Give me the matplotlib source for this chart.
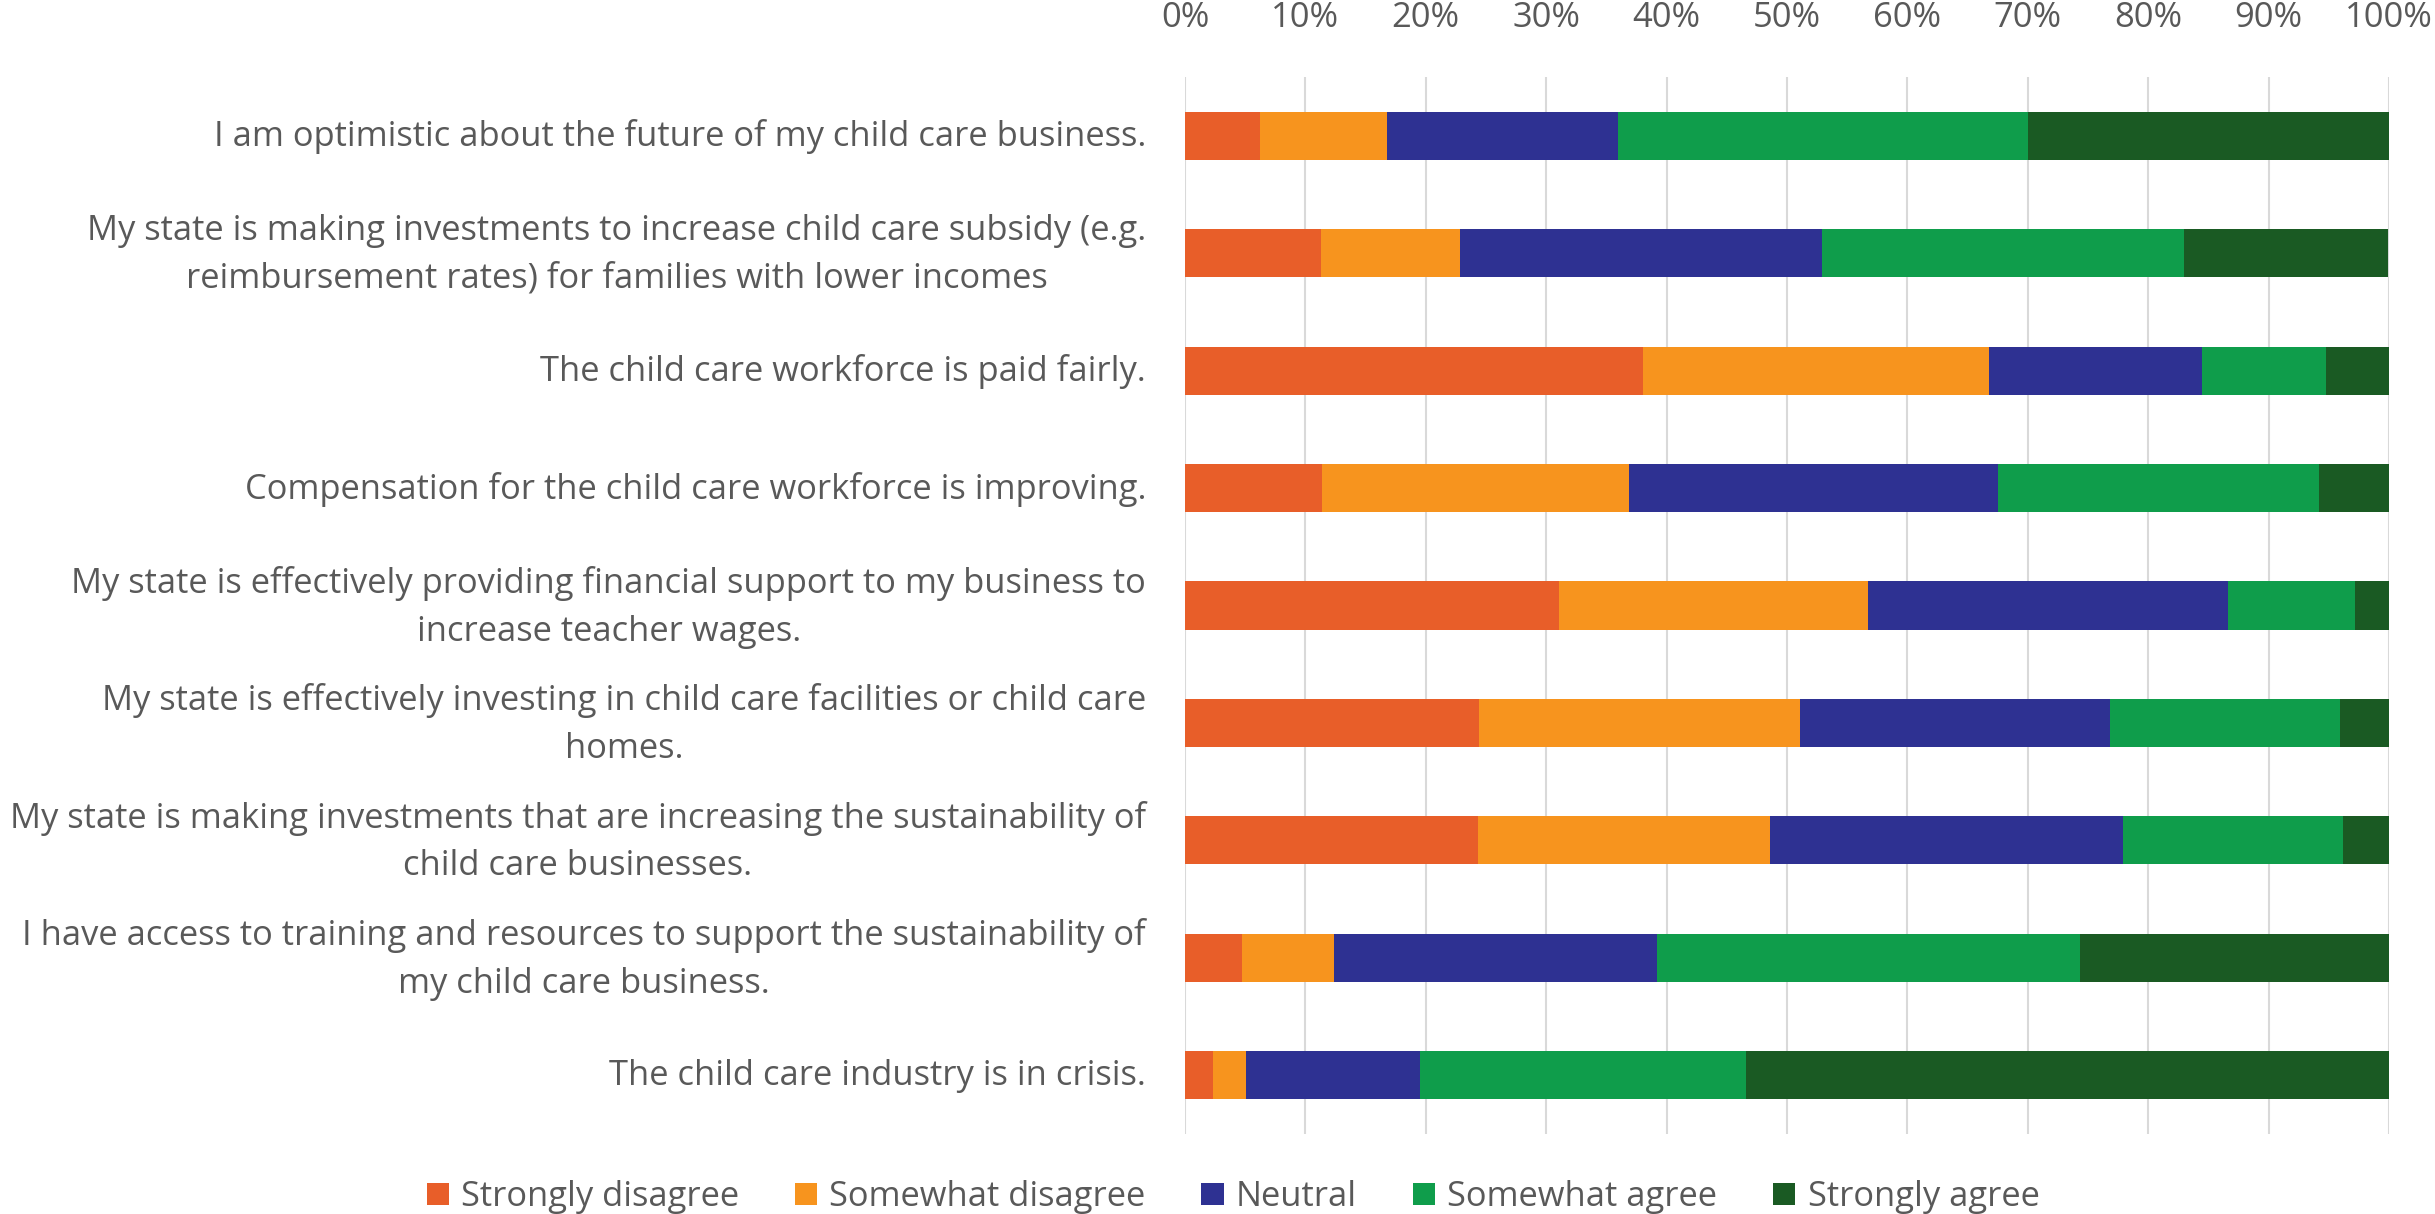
import matplotlib
matplotlib.use("Agg")
import matplotlib.pyplot as plt
import matplotlib.transforms as mtransforms
from matplotlib.patches import Patch
from matplotlib.ticker import FixedLocator
import numpy as np

categories = [
    "I am optimistic about the future of my child care business.",
    "My state is making investments to increase child care subsidy (e.g.\nreimbursement rates) for families with lower incomes",
    "The child care workforce is paid fairly.",
    "Compensation for the child care workforce is improving.",
    "My state is effectively providing financial support to my business to\nincrease teacher wages.",
    "My state is effectively investing in child care facilities or child care\nhomes.",
    "My state is making investments that are increasing the sustainability of\nchild care businesses.",
    "I have access to training and resources to support the sustainability of\nmy child care business.",
    "The child care industry is in crisis.",
]

series_names = ["Strongly disagree", "Somewhat disagree", "Neutral", "Somewhat agree", "Strongly agree"]
strongly_disagree = [6.2, 11.3, 38.0, 11.4, 31.1, 24.4, 24.3, 4.7, 2.3]
somewhat_disagree = [10.6, 11.5, 28.8, 25.5, 25.6, 26.7, 24.3, 7.7, 2.8]
neutral = [19.2, 30.1, 17.7, 30.6, 29.9, 25.7, 29.3, 26.8, 14.4]
somewhat_agree = [34.0, 30.1, 10.3, 26.7, 10.6, 19.1, 18.3, 35.1, 27.1]
strongly_agree = [30.1, 16.9, 5.3, 5.8, 2.8, 4.1, 3.8, 25.7, 53.4]
xtick_labels = ["0%", "10%", "20%", "30%", "40%", "50%", "60%", "70%", "80%", "90%", "100%"]

colors = ["#E85E29", "#F7941E", "#2E3192", "#0F9D4B", "#1A5A23"]
text_color = "#595959"

plt.rcParams["font.family"] = ["Open Sans", "DejaVu Sans"]
FS = 24.8

W, H = 2435, 1214
fig = plt.figure(figsize=(W / 100, H / 100), dpi=100)
ax = fig.add_axes([1185 / W, 1 - 1134 / H, (2389 - 1185) / W, (1134 - 77) / H])

data = [strongly_disagree, somewhat_disagree, neutral, somewhat_agree, strongly_agree]
y = np.arange(len(categories))
left = np.zeros(len(categories))
for name, vals, c in zip(series_names, data, colors):
    vals = np.array(vals, dtype=float)
    ax.barh(y, vals, left=left, height=0.41, color=c, label=name, zorder=3)
    left += vals

ax.set_ylim(len(categories) - 0.5, -0.5)
ax.set_xlim(0, 100)
ax.xaxis.set_major_locator(FixedLocator(np.arange(0, 101, 10)))
ax.set_xticklabels(xtick_labels)
ax.xaxis.tick_top()
ax.tick_params(axis="x", length=0, pad=30, labelsize=FS, labelcolor=text_color)
ax.set_yticks(y)
ax.set_yticklabels(categories, fontsize=FS, color=text_color, multialignment="center", linespacing=1.52)
ax.tick_params(axis="y", length=0, pad=28)
for lab in ax.get_yticklabels():
    dy = 9 if "\n" in lab.get_text() else 3
    lab.set_transform(lab.get_transform() + mtransforms.Affine2D().translate(0, dy))
ax.grid(axis="x", color="#D9D9D9", linewidth=1.5, zorder=0)
for s in ax.spines.values():
    s.set_visible(False)

handles = [Patch(facecolor=c, edgecolor="none") for c in colors]
leg = fig.legend(handles, series_names, loc="center", bbox_to_anchor=(1233 / W, 1 - 1197 / H),
                 ncol=5, frameon=False, fontsize=FS, labelcolor=text_color,
                 handlelength=0.64, handleheight=0.64, handletextpad=0.36, columnspacing=1.62,
                 borderpad=0, borderaxespad=0)

fig.savefig("out.png", dpi=100, facecolor="white")
